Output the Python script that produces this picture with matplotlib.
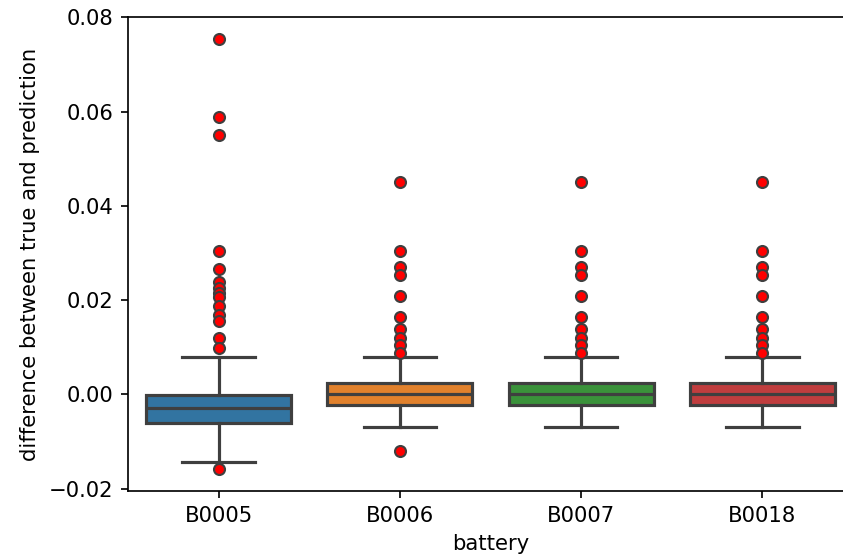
import matplotlib
matplotlib.use("Agg")
import matplotlib.pyplot as plt

batteries = ["B0005", "B0006", "B0007", "B0018"]
q1 = [-0.0061, -0.0022, -0.0022, -0.0022]
medians = [-0.0028, 0.0000, 0.0000, 0.0000]
q3 = [-0.0001, 0.0024, 0.0024, 0.0024]
whis_low = [-0.0143, -0.0070, -0.0070, -0.0070]
whis_high = [0.0080, 0.0079, 0.0079, 0.0079]
fliers_b0005 = [0.0755, 0.0588, 0.0551, 0.0304, 0.0267, 0.0238, 0.0225, 0.0215,
                0.0206, 0.0188, 0.0168, 0.0156, 0.0119, 0.0098, -0.0159]
fliers_common = [0.0451, 0.0305, 0.0270, 0.0254, 0.0208, 0.0165, 0.0139,
                 0.0120, 0.0105, 0.0088]
fliers_b0006 = fliers_common + [-0.0119]
fliers_b0007 = list(fliers_common)
fliers_b0018 = list(fliers_common)
fliers = [fliers_b0005, fliers_b0006, fliers_b0007, fliers_b0018]
colors = ["#3274a1", "#e1812c", "#3a923a", "#c03d3e"]

W, H, DPI = 843, 559, 152
fig = plt.figure(figsize=(W / DPI, H / DPI), dpi=DPI)
ax = fig.add_axes([128 / W, 68 / H, 725 / W, 474 / H])

stats = []
for i, name in enumerate(batteries):
    stats.append(dict(label=name, med=medians[i], q1=q1[i], q3=q3[i],
                      whislo=whis_low[i], whishi=whis_high[i], fliers=fliers[i]))

line_c = "#3f3f3f"
lw = 1.5
bp = ax.bxp(stats, positions=range(len(batteries)), widths=0.8, patch_artist=True,
            showfliers=True,
            boxprops=dict(edgecolor=line_c, linewidth=lw),
            medianprops=dict(color=line_c, linewidth=lw),
            whiskerprops=dict(color=line_c, linewidth=lw),
            capprops=dict(color=line_c, linewidth=lw),
            flierprops=dict(marker="o", markerfacecolor="red", markeredgecolor=line_c,
                            markersize=5.2, markeredgewidth=1.0, linestyle="none"))
for patch, c in zip(bp["boxes"], colors):
    patch.set_facecolor(c)
for cap in bp["caps"]:
    x = cap.get_xdata()
    c = (x[0] + x[1]) / 2
    cap.set_xdata([c - 0.2, c + 0.2])

ax.set_xlim(-0.5, len(batteries) - 0.5)
ax.set_xticks(range(len(batteries)))
ax.set_xticklabels(batteries)
ax.set_xlabel("battery")
ax.set_ylabel("difference between true and prediction")

fig.savefig("out.png", dpi=DPI)
